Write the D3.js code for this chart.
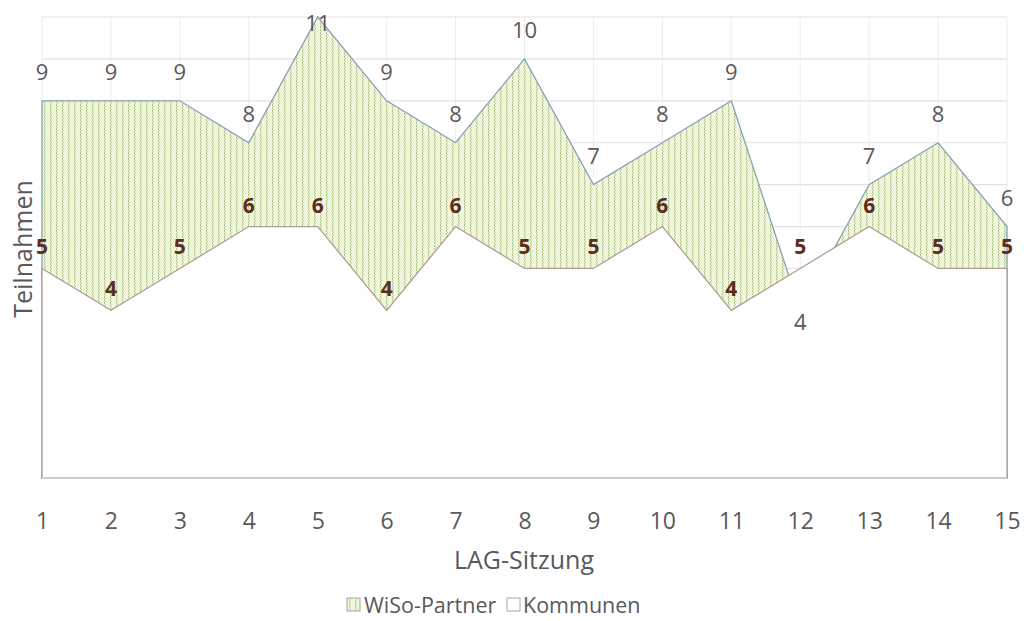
<!DOCTYPE html>
<html>
<head>
<meta charset="utf-8">
<script src="https://d3js.org/d3.v7.min.js"></script>
<style>
  body { margin: 0; background: #fff; }
  svg text { font-family: "Open Sans", sans-serif; fill: #595959; }
</style>
</head>
<body>
<svg id="chart" width="1024" height="621"></svg>
<script>
// Sitzungen and participation counts
var sessions = ["1","2","3","4","5","6","7","8","9","10","11","12","13","14","15"];
var wiso = [9, 9, 9, 8, 11, 9, 8, 10, 7, 8, 9, 4, 7, 8, 6];
var kommunen = [5, 4, 5, 6, 6, 4, 6, 5, 5, 6, 4, 5, 6, 5, 5];
var yMax = 11;

var svg = d3.select("#chart");
var plotLeft = 42, plotRight = 1007, plotTop = 17, plotBottom = 478;

var x = d3.scalePoint().domain(sessions).range([plotLeft, plotRight]);
var y = d3.scaleLinear().domain([0, yMax]).range([plotBottom, plotTop]);

// zigzag hatch for the WiSo area
var defs = svg.append("defs");
var pat = defs.append("pattern")
    .attr("id", "hatch")
    .attr("patternUnits", "userSpaceOnUse")
    .attr("width", 6).attr("height", 6);
pat.append("rect").attr("width", 6).attr("height", 6).attr("fill", "#f1f5dc");
pat.append("path")
    .attr("d", "M2,0 L3.5,1.5 L2,3 L3.5,4.5 L2,6")
    .attr("fill", "none")
    .attr("stroke", "#adc986")
    .attr("stroke-width", 1);

// gridlines
svg.append("g").selectAll("line")
    .data(y.ticks(yMax).filter(function(d) { return d > 0; }))
    .enter().append("line")
    .attr("x1", plotLeft).attr("x2", plotRight)
    .attr("y1", function(d) { return y(d); })
    .attr("y2", function(d) { return y(d); })
    .attr("stroke", "#e2e2e2").attr("stroke-width", 1.2);

svg.append("g").selectAll("line")
    .data(sessions)
    .enter().append("line")
    .attr("x1", function(d) { return x(d); })
    .attr("x2", function(d) { return x(d); })
    .attr("y1", plotTop).attr("y2", plotBottom)
    .attr("stroke", "#ececec").attr("stroke-width", 1);

function areaPath(vals) {
    var pts = vals.map(function(v, i) { return [x(sessions[i]), y(v)]; });
    pts.push([x(sessions[sessions.length - 1]), y(0)]);
    pts.push([x(sessions[0]), y(0)]);
    return "M" + pts.join("L") + "Z";
}

svg.append("path")
    .attr("d", areaPath(wiso))
    .attr("fill", "url(#hatch)")
    .attr("stroke", "#86a3b3")
    .attr("stroke-width", 1.3);

svg.append("path")
    .attr("d", areaPath(kommunen))
    .attr("fill", "#ffffff")
    .attr("stroke", "#b09d95")
    .attr("stroke-width", 1.3);

// baseline
svg.append("line")
    .attr("x1", plotLeft).attr("x2", plotRight)
    .attr("y1", plotBottom).attr("y2", plotBottom)
    .attr("stroke", "#d9d9d9").attr("stroke-width", 1.5);

// data labels
svg.append("g").selectAll("text")
    .data(wiso)
    .enter().append("text")
    .attr("x", function(d, i) { return x(sessions[i]); })
    .attr("y", function(d, i) {
        if (d < kommunen[i]) return y(d) + 20;
        return Math.max(y(d) - 21, 31);
    })
    .attr("text-anchor", "middle")
    .style("font-size", "22px")
    .text(function(d) { return d; });

svg.append("g").selectAll("text")
    .data(kommunen)
    .enter().append("text")
    .attr("x", function(d, i) { return x(sessions[i]); })
    .attr("y", function(d) { return y(d) - 14; })
    .attr("text-anchor", "middle")
    .style("font-size", "21px")
    .style("font-weight", "bold")
    .style("fill", "#5a2d20")
    .text(function(d) { return d; });

// x axis tick labels
var xAxis = d3.axisBottom(x).tickSize(0).tickPadding(0);
var gx = svg.append("g")
    .attr("transform", "translate(0," + plotBottom + ")")
    .call(xAxis);
gx.select(".domain").remove();
gx.selectAll("text")
    .attr("dy", 0).attr("y", 51)
    .style("font-size", "23px")
    .style("font-family", "\"Open Sans\", sans-serif")
    .style("fill", "#595959");

// axis titles
svg.append("text")
    .attr("x", 524).attr("y", 569)
    .attr("text-anchor", "middle")
    .style("font-size", "25px")
    .text("LAG-Sitzung");

svg.append("text")
    .attr("transform", "translate(32,249) rotate(-90)")
    .attr("text-anchor", "middle")
    .style("font-size", "25px")
    .text("Teilnahmen");

// legend
var legend = svg.append("g").attr("transform", "translate(347,598)");
legend.append("rect").attr("width", 13).attr("height", 13)
    .attr("fill", "url(#hatch)").attr("stroke", "#a0a8a8");
legend.append("text").attr("x", 17).attr("y", 15)
    .style("font-size", "21.5px").text("WiSo-Partner");
legend.append("rect").attr("x", 160).attr("width", 13).attr("height", 13)
    .attr("fill", "#fff").attr("stroke", "#a8a8a8");
legend.append("text").attr("x", 176).attr("y", 15)
    .style("font-size", "21.5px").text("Kommunen");
</script>
</body>
</html>
